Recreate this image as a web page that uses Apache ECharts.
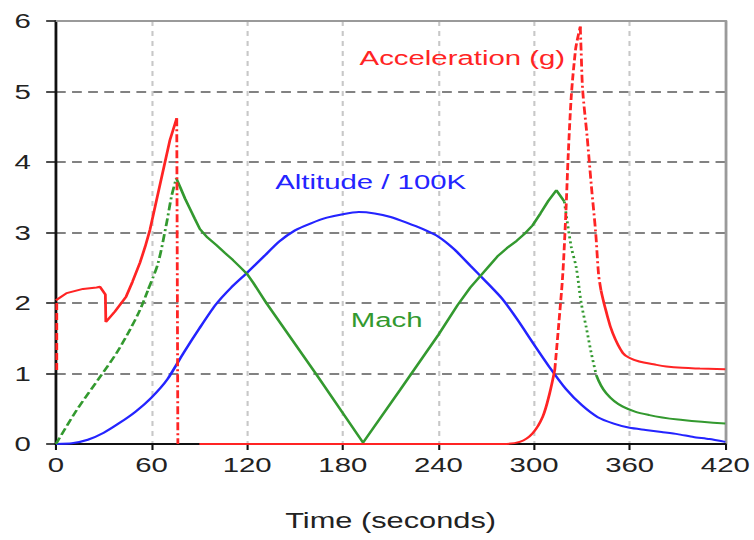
<!DOCTYPE html>
<html>
<head>
<meta charset="utf-8">
<script src="https://cdn.jsdelivr.net/npm/echarts@6/dist/echarts.min.js"></script>
<style>
  html, body { margin: 0; padding: 0; background: #fff; overflow: hidden; }
  /* the original picture is stretched sideways, so draw narrow and stretch */
  #chart { width: 539px; height: 540px; transform-origin: 0 0; }
</style>
</head>
<body>
<div id="chart"></div>
<script>
// x ticks / y ticks
const timeTicks = [0, 60, 120, 180, 240, 300, 360, 420];
const yTicks = [0, 1, 2, 3, 4, 5, 6];

// Acceleration (g), split by line style as in the picture
const accelStart = [[0.5, 1.05], [0.5, 2.0]];
const accelBoost = [[0, 2.04], [6.7, 2.14], [17, 2.2], [25.5, 2.22], [27.6, 2.23], [31, 2.12], [31.3, 1.73],
  [37, 1.88], [44, 2.09], [48, 2.3], [52.7, 2.57], [56, 2.8], [59, 3.04], [65, 3.65], [71.5, 4.31], [75.8, 4.62]];
const accelCutoff = [[75.8, 4.62], [76.5, 0]];
const accelCoast = [[90, 0], [280, 0], [291, 0.03], [299, 0.15], [305.5, 0.39], [309.8, 0.72], [313, 1.05]];
const accelRise = [[313, 1.05], [315.5, 1.7], [318, 2.4], [320, 3.3], [321.5, 4.13], [323.5, 4.98],
  [326, 5.59], [327, 5.72], [329, 5.92]];
const accelFall = [[329, 5.92], [329.5, 5.6], [330.5, 5.02], [333.3, 4.36], [336, 3.65], [338.7, 2.99],
  [340.5, 2.4], [342, 2.18]];
const accelEntry = [[342, 2.18], [345, 1.9], [349.4, 1.57], [355.7, 1.29], [360, 1.22], [366, 1.17],
  [375, 1.13], [383, 1.1], [393, 1.08], [404, 1.07], [420, 1.06]];

// Mach
const machClimb = [[0, 0], [13, 0.48], [27.6, 0.95], [38, 1.29], [46.4, 1.62], [52.7, 1.9], [58, 2.2]];
const machPeak = [[58, 2.2], [64, 2.56], [69.4, 3.13], [72.5, 3.51], [75.5, 3.77]];
const machMid = [[75.5, 3.77], [78, 3.64], [81, 3.48], [84, 3.34], [87, 3.2], [90.3, 3.05], [95, 2.93],
  [100.7, 2.82], [106, 2.71], [111, 2.61], [116, 2.5], [120, 2.41], [124, 2.28], [128, 2.14], [132, 2.0],
  [163, 1.0], [192.7, 0.02], [216, 0.77], [240, 1.55], [252, 1.97], [260, 2.22], [267, 2.4], [272, 2.53],
  [277, 2.66], [283, 2.78], [289, 2.88], [294, 2.98], [299, 3.1], [304, 3.27], [309, 3.45], [314, 3.6],
  [319, 3.44]];
const machDrop = [[319, 3.44], [323.3, 2.8], [326.5, 2.5], [329.6, 2.0], [332.7, 1.66], [335.9, 1.29], [339, 0.98]];
const machTail = [[339, 0.98], [345.3, 0.72], [355.7, 0.53], [372.4, 0.41], [393.3, 0.34], [420, 0.29]];

// Altitude / 100K
const altitudeTime = [0, 10, 20, 30, 40, 50, 60, 70, 80, 90, 100, 110, 120, 130, 140, 150, 160, 170, 180,
  190, 200, 210, 220, 230, 240, 250, 260, 270, 280, 290, 300, 310, 320, 330, 340, 350, 360, 370, 380, 390,
  400, 410, 420];
const altitudeValue = [0, 0.01, 0.06, 0.16, 0.3, 0.46, 0.66, 0.92, 1.29, 1.64, 1.97, 2.22, 2.43, 2.65, 2.87,
  3.03, 3.13, 3.21, 3.26, 3.29, 3.27, 3.22, 3.14, 3.05, 2.94, 2.76, 2.53, 2.3, 2.06, 1.75, 1.41, 1.08, 0.78,
  0.55, 0.38, 0.29, 0.23, 0.2, 0.17, 0.14, 0.1, 0.07, 0.03];

// curve labels, placed in data units
const labelNames = ['Acceleration (g)', 'Altitude / 100K', 'Mach'];
const labelAt = [[255, 5.48], [197.5, 3.72], [207.5, 1.77]];

const RED = '#ff2424';
const GREEN = '#33992f';
const BLUE = '#2424ff';
const DASH = [7, 3];
const DASHDOT = [8, 3, 2, 3];
const DOT = [2, 3];
const FONT = 'Liberation Sans, Arial, sans-serif';

const box = document.getElementById('chart');
box.style.transform = 'scaleX(' + (754 / 539) + ')';
const myChart = echarts.init(box, null, { renderer: 'svg' });

function seg(data, color, type, extra) {
  return Object.assign({
    type: 'line',
    data: data,
    xAxisIndex: 0,
    yAxisIndex: 0,
    showSymbol: false,
    symbol: 'none',
    z: 20,
    silent: true,
    lineStyle: { color: color, width: 2, type: type },
  }, extra || {});
}

function tag(i, color) {
  return {
    symbol: 'circle',
    symbolSize: 1,
    itemStyle: { color: 'rgba(0,0,0,0)' },
    label: {
      show: true,
      position: 'inside',
      formatter: labelNames[i],
      color: color,
      fontSize: 21,
      fontFamily: FONT,
    },
    data: [{ coord: labelAt[i] }],
  };
}

const altitude = altitudeTime.map((t, i) => [t, altitudeValue[i]]);

const xBase = { type: 'value', min: 0, max: 420, interval: 60 };
const yBase = { type: 'value', min: 0, max: 6, interval: 1 };

const option = {
  animation: false,
  backgroundColor: '#fff',
  grid: { left: 40, right: 19.5, top: 21, bottom: 96 },
  xAxis: [
    Object.assign({}, xBase, {
      position: 'bottom',
      z: 10,
      axisLine: { show: true, onZero: false, lineStyle: { color: '#111', width: 2 } },
      axisTick: { show: true, length: 6, lineStyle: { color: '#111', width: 1.5 } },
      axisLabel: { fontSize: 21, color: '#222', margin: 10, fontFamily: FONT },
      splitLine: { show: false },
      name: 'Time (seconds)',
      nameLocation: 'middle',
      nameGap: 66,
      nameTextStyle: { fontSize: 22, color: '#222', fontFamily: FONT },
    }),
    Object.assign({}, xBase, {
      position: 'top',
      z: 10,
      axisLine: { show: true, onZero: false, lineStyle: { color: '#9a9a9a', width: 2 } },
      axisTick: { show: false },
      axisLabel: { show: false },
      splitLine: { show: false },
    }),
    Object.assign({}, xBase, {
      position: 'bottom',
      z: 0,
      axisLine: { show: false, onZero: false },
      axisTick: { show: false },
      axisLabel: { show: false },
      splitLine: { show: true, lineStyle: { color: '#c8c8c8', width: 1.5, type: [5, 5] } },
    }),
  ],
  yAxis: [
    Object.assign({}, yBase, {
      position: 'left',
      z: 10,
      axisLine: { show: true, onZero: false, lineStyle: { color: '#111', width: 2 } },
      axisTick: { show: true, length: 7, lineStyle: { color: '#111', width: 1.5 } },
      axisLabel: { fontSize: 21, color: '#222', margin: 18, fontFamily: FONT },
      splitLine: { show: false },
    }),
    Object.assign({}, yBase, {
      position: 'right',
      z: 10,
      axisLine: { show: true, onZero: false, lineStyle: { color: '#9a9a9a', width: 2 } },
      axisTick: { show: false },
      axisLabel: { show: false },
      splitLine: { show: false },
    }),
    Object.assign({}, yBase, {
      position: 'left',
      z: 0,
      axisLine: { show: false, onZero: false },
      axisTick: { show: false },
      axisLabel: { show: false },
      splitLine: { show: true, lineStyle: { color: '#5a5a5a', width: 1.5, type: [7, 4.5] } },
    }),
  ],
  series: [
    seg(altitude, BLUE, 'solid', { smooth: 0.2, markPoint: tag(1, BLUE) }),
    seg(machClimb, GREEN, DASH, { smooth: 0.3 }),
    seg(machPeak, GREEN, DASHDOT, { smooth: 0.3 }),
    seg(machMid, GREEN, 'solid', { markPoint: tag(2, GREEN) }),
    seg(machDrop, GREEN, DOT, { smooth: 0.3 }),
    seg(machTail, GREEN, 'solid', { smooth: 0.4 }),
    seg(accelStart, RED, DASH),
    seg(accelBoost, RED, 'solid'),
    seg(accelCutoff, RED, DASHDOT),
    seg(accelCoast, RED, 'solid', { smooth: 0.3 }),
    seg(accelRise, RED, DASH, { smooth: 0.3, markPoint: tag(0, RED) }),
    seg(accelFall, RED, DASHDOT, { smooth: 0.3 }),
    seg(accelEntry, RED, 'solid', { smooth: 0.4 }),
  ],
};

myChart.setOption(option);
window.addEventListener('resize', myChart.resize);
</script>
</body>
</html>
